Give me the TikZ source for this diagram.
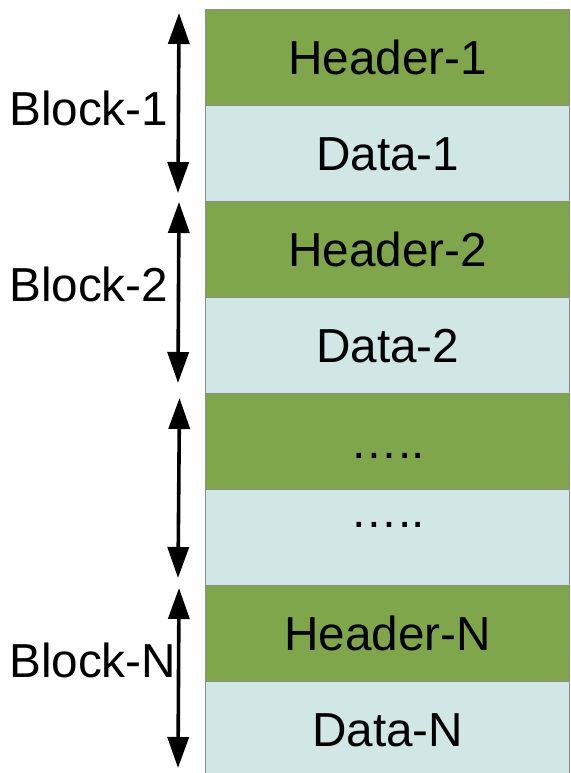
\documentclass[tikz,border=0pt]{standalone}
\usepackage{fontspec}
\setmainfont{Liberation Sans}
\usetikzlibrary{arrows.meta}
\definecolor{hdrgreen}{HTML}{7FA64A}
\definecolor{datablue}{HTML}{D1E7E5}
\definecolor{edgegray}{HTML}{8C8C8C}
\begin{document}
\begin{tikzpicture}[x=1pt,y=-1pt,
  every node/.style={font=\fontsize{47.7}{52}\selectfont},
  cell/.style={draw=edgegray,line width=1.3pt,minimum width=364pt,minimum height=96pt,inner sep=0pt,text height=34pt,text depth=0pt,anchor=north west},
  hdr/.style={cell,fill=hdrgreen},
  dat/.style={cell,fill=datablue},
  lbl/.style={inner sep=0pt,text height=34pt,text depth=0pt,anchor=west},
  span/.style={line width=3.6pt,{Triangle[width=21pt,length=31pt]}-{Triangle[width=21pt,length=31pt]}}]
\useasboundingbox (0,0) rectangle (570,773);
\fill[white] (0,0) rectangle (570,773);
\begin{scope}
\clip (0,0) rectangle (570,773);
\node[hdr] (h1) at (205,9) {Header-1};
\node[dat] (d1) at (205,105) {Data-1};
\node[hdr] (h2) at (205,201) {Header-2};
\node[dat] (d2) at (205,297) {Data-2};
\node[hdr] (h3) at (205,393) {…..};
\node[dat] (d3) at (205,489) {\raisebox{27pt}{…..}};
\node[hdr] (hn) at (205,585) {Header-N};
\node[dat] (dn) at (205,681) {Data-N};
\end{scope}
\coordinate (a1t) at (179,13);
\coordinate (a1b) at (178,193);
\coordinate (a2t) at (179,202);
\coordinate (a2b) at (178,383);
\coordinate (a3t) at (179.5,398);
\coordinate (a3b) at (178,578);
\coordinate (a4t) at (179,588);
\coordinate (a4b) at (178,768);
\draw[span] (a1t) -- (a1b);
\draw[span] (a2t) -- (a2b);
\draw[span] (a3t) -- (a3b);
\draw[span] (a4t) -- (a4b);
\node[lbl] (b1) at (9,108.5) {Block-1};
\node[lbl] (b2) at (9,284) {Block-2};
\node[lbl] (bn) at (9,660) {Block-N};
\end{tikzpicture}
\end{document}
